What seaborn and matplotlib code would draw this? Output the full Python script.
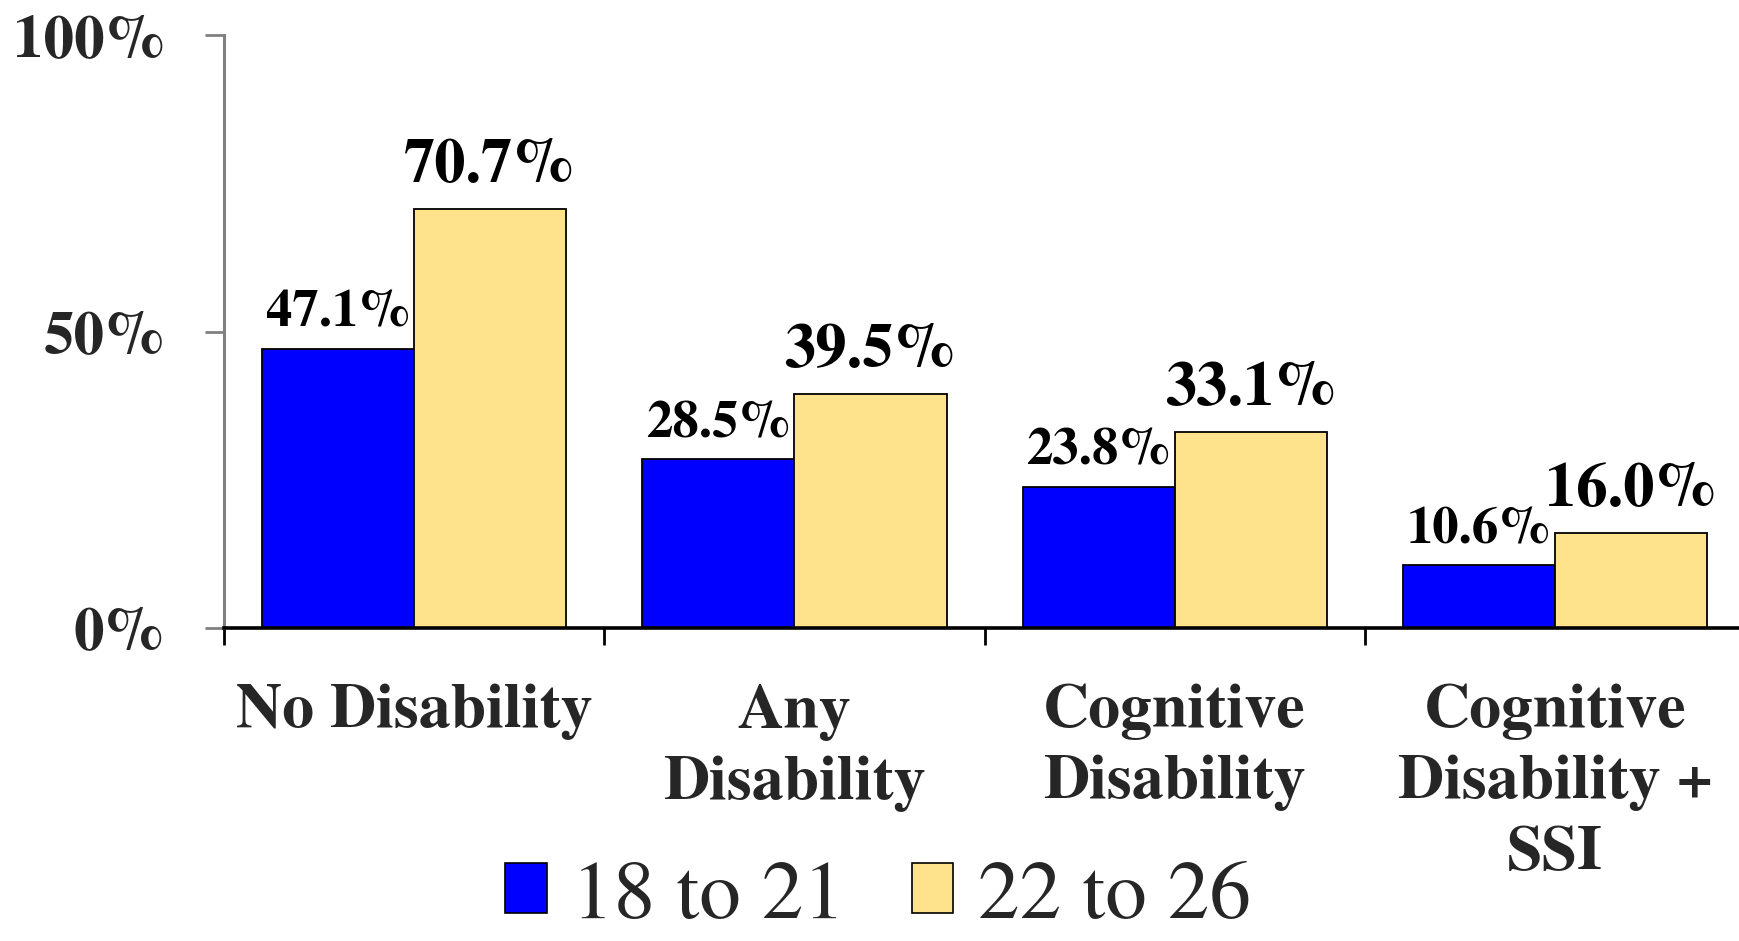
import matplotlib
matplotlib.use("Agg")
import matplotlib.pyplot as plt
from matplotlib.patches import Patch
from matplotlib.ticker import FixedLocator
import seaborn as sns
import pandas as pd

# Employment rate by disability status and age group
categories = ["No Disability", "Any\nDisability", "Cognitive\nDisability", "Cognitive\nDisability +\nSSI"]
age_groups = ["18 to 21", "22 to 26"]
rate_18_21 = [47.1, 28.5, 23.8, 10.6]
rate_22_26 = [70.7, 39.5, 33.1, 16.0]
colors = ["#0000FF", "#FFE38C"]
y_ticks = [0, 50, 100]

df = pd.DataFrame({
    "category": categories * 2,
    "age": [age_groups[0]] * len(categories) + [age_groups[1]] * len(categories),
    "rate": rate_18_21 + rate_22_26,
})

sns.set_theme(style="white")
SERIF = "TeX Gyre Termes"
plt.rcParams["font.serif"] = [SERIF, "Liberation Serif", "DejaVu Serif"]
plt.rcParams["font.family"] = "serif"

fig = plt.figure(figsize=(17.39, 9.41), dpi=100)
ax = fig.add_axes([0.1288, 0.3326, 1.0035 - 0.1288, 0.9623 - 0.3326])

sns.barplot(data=df, x="category", y="rate", hue="age", order=categories,
            hue_order=age_groups, palette=colors, width=0.8, saturation=1,
            edgecolor="black", linewidth=1.3, legend=False, ax=ax)

ax.set_xlim(-0.5, len(categories) - 0.5)
ax.set_ylim(0, 100)
ax.set_xlabel("")
ax.set_ylabel("")

# value labels above bars
label_sizes = [38, 45]
label_pads = [8, 10]
for cont, fs, pad in zip(ax.containers, label_sizes, label_pads):
    ax.bar_label(cont, fmt="%.1f%%", padding=pad, fontsize=fs, fontweight="bold",
                 fontfamily=SERIF, color="black")

# y axis: grey spine with outward ticks
ax.set_yticks(y_ticks)
ax.set_yticklabels([f"{v}%" for v in y_ticks], fontsize=44, fontweight="bold", fontfamily=SERIF)
ax.tick_params(axis="y", which="major", direction="out", length=14, width=2,
               color="#808080", pad=28, left=True)
ax.spines["left"].set_color("#808080")
ax.spines["left"].set_linewidth(2.2)

# x axis: black spine, ticks at group boundaries
ax.spines["bottom"].set_color("black")
ax.spines["bottom"].set_linewidth(2.6)
ax.spines["top"].set_visible(False)
ax.spines["right"].set_visible(False)
ax.xaxis.set_minor_locator(FixedLocator([i - 0.5 for i in range(len(categories) + 1)]))
ax.tick_params(axis="x", which="minor", direction="out", length=12, width=2,
               color="black", bottom=True)
ax.tick_params(axis="x", which="major", length=0, pad=40, labelsize=46)
for t in ax.get_xticklabels():
    t.set_fontfamily(SERIF)
    t.set_fontweight("bold")
    t.set_multialignment("center")
    t.set_linespacing(1.34)

ax.grid(False)

handles = [Patch(facecolor=c, edgecolor="black", linewidth=1.2) for c in colors]
fig.legend(handles, age_groups, loc="center", bbox_to_anchor=(0.505, 0.045), ncol=2,
           frameon=False, prop={"family": SERIF, "size": 60}, handlelength=0.5,
           handleheight=0.55, handletextpad=0.3, columnspacing=0.8, borderpad=0)

fig.savefig("out.png", dpi=100, facecolor="white")
